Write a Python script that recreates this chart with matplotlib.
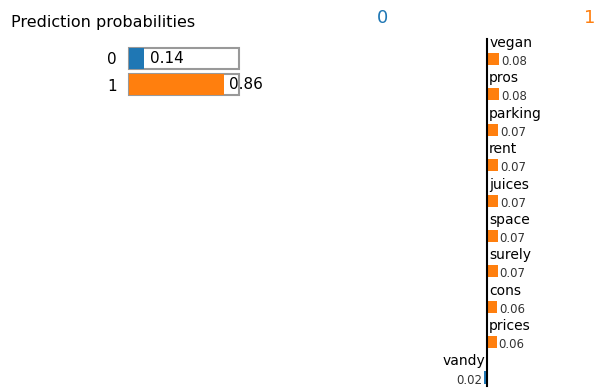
import matplotlib.pyplot as plt

# prediction probabilities
classes = ["0", "1"]
probs = [0.14, 0.86]

# feature weights (positive -> class 1, negative -> class 0)
features = ["vegan", "pros", "parking", "rent", "juices", "space",
            "surely", "cons", "prices", "vandy"]
weights = [0.080, 0.077, 0.074, 0.072, 0.071, 0.069, 0.068, 0.063, 0.062, -0.018]

blue = "#1f77b4"
orange = "#ff7f0e"
W, H = 595, 391

fig = plt.figure(figsize=(5.95, 3.91), dpi=100)

# title
fig.text(11 / W, 1 - 27 / H, "Prediction probabilities", fontsize=11.5,
         va="baseline", ha="left")

# probability bars
ax1 = fig.add_axes([129 / W, 1 - 99 / H, 110 / W, 55 / H])
ypos = list(range(len(classes)))
ax1.barh(ypos, [1] * len(classes), height=0.78, color="white",
         edgecolor="#999999", linewidth=1.5, clip_on=False)
ax1.barh(ypos, probs, height=0.78, color=[blue, orange], clip_on=False)
for y, p in zip(ypos, probs):
    ax1.annotate(f"{p:.2f}", (p, y), xytext=(4, 0), textcoords="offset points",
                 va="center", ha="left", fontsize=11)
ax1.set_xlim(0, 1)
ax1.set_ylim(1.52, -0.52)
ax1.set_yticks(ypos)
ax1.set_yticklabels(classes, fontsize=11)
ax1.tick_params(axis="y", length=0, pad=9)
ax1.set_xticks([])
for s in ax1.spines.values():
    s.set_visible(False)

# class headers
fig.text(382 / W, 1 - 18 / H, "0", color=blue, fontsize=13, ha="center", va="center")
fig.text(590 / W, 1 - 18 / H, "1", color=orange, fontsize=13, ha="center", va="center")

# feature weights
ax2 = fig.add_axes([400 / W, 1 - 386 / H, 195 / W, 347 / H])
rows = list(range(len(features)))
bh = 0.34
cols = [orange if w > 0 else blue for w in weights]
ax2.barh(rows, weights, height=bh, color=cols)
for r, name, w in zip(rows, features, weights):
    if w > 0:
        ax2.annotate(name, (0, r - 0.34), xytext=(1.5, 0), textcoords="offset points",
                     ha="left", va="baseline", fontsize=10)
        ax2.annotate(f"{abs(w):.2f}", (w, r + bh / 2), xytext=(1.5, 0),
                     textcoords="offset points", ha="left", va="baseline",
                     fontsize=8.5, color="#333333")
    else:
        ax2.annotate(name, (0, r - 0.34), xytext=(-1.5, 0), textcoords="offset points",
                     ha="right", va="baseline", fontsize=10)
        ax2.annotate(f"{abs(w):.2f}", (w, r + bh / 2), xytext=(-1.5, 0),
                     textcoords="offset points", ha="right", va="baseline",
                     fontsize=8.5, color="#333333")
ax2.set_xlim(-0.565, 0.701)
ax2.set_ylim(9.24, -0.565)
ax2.set_xticks([])
ax2.set_yticks([])
for k in ["top", "right", "bottom"]:
    ax2.spines[k].set_visible(False)
ax2.spines["left"].set_position(("data", 0))
ax2.spines["left"].set_linewidth(1.5)
ax2.spines["left"].set_color("black")

fig.savefig("out.png", dpi=100)
